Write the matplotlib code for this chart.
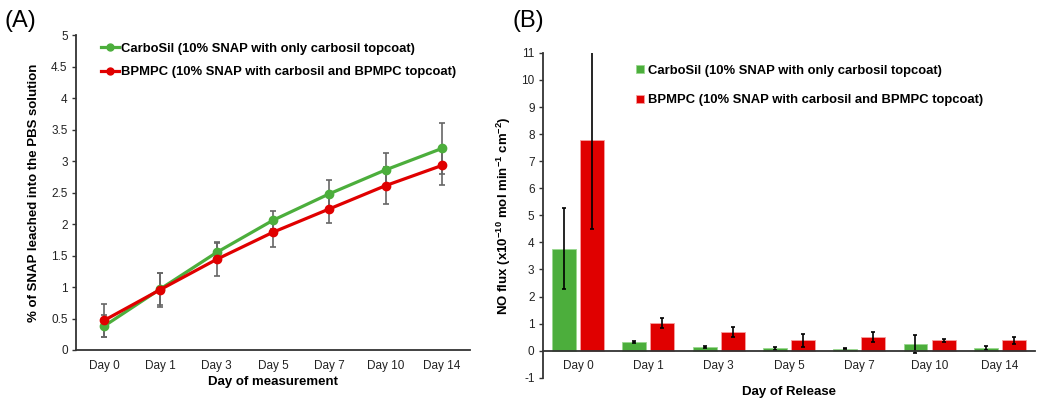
import numpy as np
import matplotlib
matplotlib.use("Agg")
import matplotlib.pyplot as plt
from matplotlib.lines import Line2D

plt.rcParams['font.family'] = ['Liberation Sans', 'DejaVu Sans']
plt.rcParams['mathtext.fontset'] = 'custom'
plt.rcParams['mathtext.rm'] = 'Liberation Sans:bold'
plt.rcParams['mathtext.bf'] = 'Liberation Sans:bold'
plt.rcParams['axes.unicode_minus'] = False

# ---- data ----
days = ["Day 0", "Day 1", "Day 3", "Day 5", "Day 7", "Day 10", "Day 14"]

# (A) % of SNAP leached
leach_carbosil = [0.38, 0.97, 1.55, 2.06, 2.48, 2.86, 3.20]
leach_carbosil_err = [0.18, 0.26, 0.15, 0.14, 0.22, 0.27, 0.40]
leach_bpmpc = [0.47, 0.96, 1.44, 1.87, 2.24, 2.61, 2.93]
leach_bpmpc_err = [0.26, 0.27, 0.27, 0.23, 0.23, 0.29, 0.31]

# (B) NO flux
flux_carbosil = [3.77, 0.33, 0.14, 0.09, 0.08, 0.25, 0.10]
flux_carbosil_err = [1.50, 0.03, 0.03, 0.06, 0.03, 0.33, 0.06]
flux_bpmpc = [7.77, 1.02, 0.69, 0.38, 0.50, 0.38, 0.38]
flux_bpmpc_err = [3.27, 0.20, 0.17, 0.23, 0.18, 0.05, 0.13]

lbl_carbosil = "CarboSil (10% SNAP with only carbosil topcoat)"
lbl_bpmpc = "BPMPC (10% SNAP with carbosil and BPMPC topcoat)"

GREEN = "#4cae3c"
RED = "#e00000"
AXC = "#333333"

fig = plt.figure(figsize=(10.5, 4.04), dpi=100)

# ---------- (A) ----------
ax1 = fig.add_axes([0.0724, 0.1337, 0.3752, 0.7793])
x = np.arange(len(days))
ax1.errorbar(x, leach_carbosil, yerr=leach_carbosil_err, color=GREEN, lw=2.3,
             marker='o', ms=6, ecolor='#666666', elinewidth=1.2, capsize=2.5,
             capthick=1.2, zorder=3)
ax1.errorbar(x, leach_bpmpc, yerr=leach_bpmpc_err, color=RED, lw=2.3,
             marker='o', ms=6, ecolor='#666666', elinewidth=1.2, capsize=2.5,
             capthick=1.2, zorder=3)
ax1.set_xlim(-0.5, len(days) - 0.5)
ax1.set_ylim(0, 5)
ax1.set_yticks(np.arange(0, 5.01, 0.5))
ax1.set_yticklabels(["0", "0.5", "1", "1.5", "2", "2.5", "3", "3.5", "4", "4.5", "5"])
ax1.set_xticks(x)
ax1.set_xticklabels(days)
ax1.set_xlabel("Day of measurement", fontsize=9.5, fontweight='bold', labelpad=3)
ax1.set_ylabel("% of SNAP leached into the PBS solution", fontsize=9.5,
               fontweight='bold', labelpad=8)
handles = [Line2D([], [], color=GREEN, lw=2.3, marker='o', ms=5),
           Line2D([], [], color=RED, lw=2.3, marker='o', ms=5)]
ax1.legend(handles, [lbl_carbosil, lbl_bpmpc], loc='upper left',
           bbox_to_anchor=(0.037, 1.01), frameon=False,
           prop={'weight': 'bold', 'size': 9.4}, handlelength=1.4,
           handletextpad=0.1, labelspacing=0.9, numpoints=1, borderpad=0.3)

# ---------- (B) ----------
ax2 = fig.add_axes([0.517, 0.065, 0.4687, 0.804])
w = 0.34
ax2.bar(x - 0.2, flux_carbosil, w, color=GREEN, edgecolor='#9ad88f', lw=0.6,
        yerr=flux_carbosil_err, error_kw=dict(ecolor='black', elinewidth=1.2,
                                               capsize=1.5, capthick=1.2),
        label=lbl_carbosil, zorder=2)
ax2.bar(x + 0.2, flux_bpmpc, w, color=RED, edgecolor='#f5a0a0', lw=0.6,
        yerr=flux_bpmpc_err, error_kw=dict(ecolor='black', elinewidth=1.2,
                                            capsize=1.5, capthick=1.2),
        label=lbl_bpmpc, zorder=2)
ax2.set_xlim(-0.5, len(days) - 0.5)
ax2.set_ylim(-1, 11)
ax2.set_yticks(np.arange(-1, 12, 1))
ax2.set_xticks(x)
ax2.set_xticklabels(days)
ax2.spines['bottom'].set_position(('data', 0))
ax2.set_xlabel("Day of Release", fontsize=9.5, fontweight='bold')
ax2.xaxis.set_label_coords(0.5, -0.025)
ax2.set_ylabel(r"NO flux (x10$^{\mathbf{-10}}$ mol min$^{\mathbf{-1}}$ cm$^{\mathbf{-2}}$)",
               fontsize=9.5, fontweight='bold', labelpad=6)
ax2.legend(loc='upper left', bbox_to_anchor=(0.166, 1.0), frameon=False,
           prop={'weight': 'bold', 'size': 9.4}, handlelength=0.6, handleheight=0.6,
           handletextpad=0.3, labelspacing=1.35)

for ax in (ax1, ax2):
    for s in ('top', 'right'):
        ax.spines[s].set_visible(False)
    for s in ('left', 'bottom'):
        ax.spines[s].set_color(AXC)
        ax.spines[s].set_linewidth(1.3)
    ax.tick_params(axis='y', length=3, width=1, color=AXC, labelsize=8.5,
                   labelcolor='#222222', pad=3)
    ax.tick_params(axis='x', length=0, labelsize=8.5, labelcolor='#222222', pad=7)

fig.text(0.004, 0.975, "(A)", fontsize=17, va='top', ha='left')
fig.text(0.488, 0.975, "(B)", fontsize=17, va='top', ha='left')

fig.savefig("out.png", dpi=100)
